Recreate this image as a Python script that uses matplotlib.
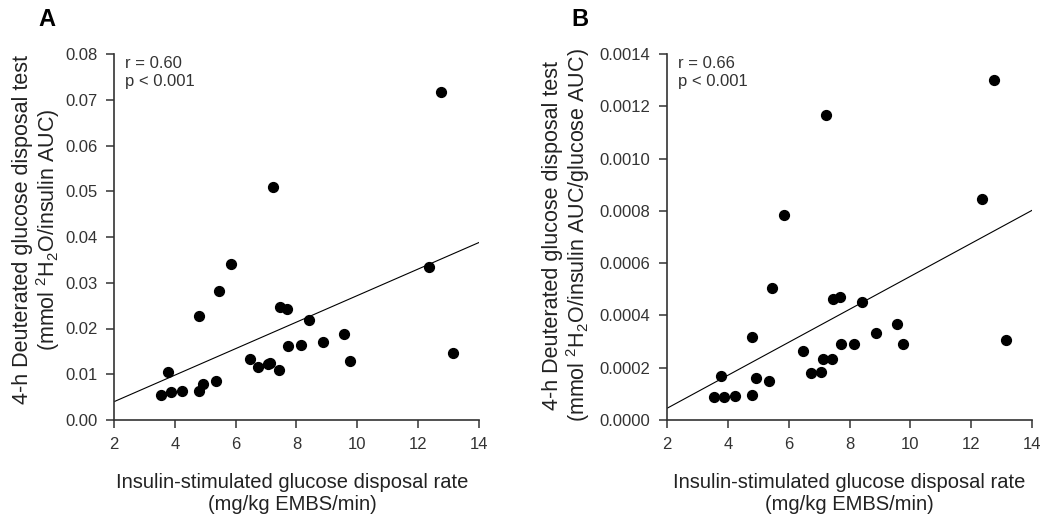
import matplotlib
matplotlib.use("Agg")
import matplotlib.pyplot as plt
import numpy as np

plt.rcParams['font.family'] = ['Liberation Sans', 'DejaVu Sans']
plt.rcParams['mathtext.fontset'] = 'custom'
plt.rcParams['mathtext.rm'] = 'Liberation Sans'

# =========================
# data
# =========================
gdr = [3.53, 3.79, 3.88, 4.25, 4.78, 4.78, 4.91, 5.35, 5.46, 5.84,
       6.48, 6.72, 7.07, 7.12, 7.22, 7.42, 7.45, 7.69, 7.73, 8.16,
       8.40, 8.86, 9.57, 9.75, 12.35, 12.75, 13.16]

ddt_insulin = [0.0054, 0.0106, 0.0061, 0.0063, 0.0227, 0.0064, 0.0078, 0.0085, 0.0281, 0.0341,
               0.0133, 0.0115, 0.0122, 0.0125, 0.0509, 0.0110, 0.0246, 0.0243, 0.0162, 0.0165,
               0.0218, 0.0170, 0.0187, 0.0130, 0.0334, 0.0716, 0.0147]

ddt_ratio = [0.0000894, 0.000167, 0.0000894, 0.000092, 0.000319, 0.0000945, 0.000160, 0.000149, 0.000505, 0.000784,
             0.000263, 0.000178, 0.000184, 0.000235, 0.001168, 0.000235, 0.000462, 0.000469, 0.000291, 0.000291,
             0.000451, 0.000332, 0.000367, 0.000289, 0.000844, 0.001299, 0.000305]

# regression lines (slope, intercept)
fit_a = (0.0029, -0.0018)
fit_b = (0.0000631, -0.0000815)

stats_a = "r = 0.60\np < 0.001"
stats_b = "r = 0.66\np < 0.001"

x_ticks = [2, 4, 6, 8, 10, 12, 14]
y_ticks_a = [0.00, 0.01, 0.02, 0.03, 0.04, 0.05, 0.06, 0.07, 0.08]
y_ticks_b = [0.0000, 0.0002, 0.0004, 0.0006, 0.0008, 0.0010, 0.0012, 0.0014]

xlabel = "Insulin-stimulated glucose disposal rate\n(mg/kg EMBS/min)"
ylabel_a = "4-h Deuterated glucose disposal test\n(mmol $^{2}$H$_{2}$O/insulin AUC)"
ylabel_b = "4-h Deuterated glucose disposal test\n(mmol $^{2}$H$_{2}$O/insulin AUC/glucose AUC)"

txt = '#222222'
W, H = 1050, 516
fig = plt.figure(figsize=(W / 100, H / 100), dpi=100)


def panel(left, y, fit, yticks, yfmt, ylabel, stats, letter, letter_x, ylab_x, ylab_y, xlab_x):
    ax = fig.add_axes([left / W, 1 - 420 / H, 365 / W, 366 / H])
    ax.scatter(gdr, y, s=50, color='black', zorder=3)
    xs = np.array([x_ticks[0], x_ticks[-1]])
    ax.plot(xs, fit[0] * xs + fit[1], color='black', lw=0.8)
    ax.set_xlim(x_ticks[0], x_ticks[-1])
    ax.set_ylim(yticks[0], yticks[-1])
    ax.set_xticks(x_ticks)
    ax.set_yticks(yticks)
    ax.set_yticklabels([yfmt % v for v in yticks])
    for s in ['top', 'right']:
        ax.spines[s].set_visible(False)
    for s in ['left', 'bottom']:
        ax.spines[s].set_color('#333333')
        ax.spines[s].set_linewidth(1.2)
    ax.tick_params(direction='out', length=6, width=1.1, color='#333333',
                   labelsize=12, labelcolor='#333333', pad=6)
    ax.set_xlabel(xlabel, fontsize=14.5, color=txt, linespacing=1.2)
    ax.xaxis.label.set_va('center')
    ax.xaxis.set_label_coords(xlab_x, -0.2)
    ax.set_ylabel(ylabel, fontsize=15.5, color=txt, linespacing=1.05)
    ax.yaxis.label.set_va('center')
    ax.yaxis.set_label_coords(ylab_x, ylab_y)
    ax.text(0.03, 0.995, stats, transform=ax.transAxes, ha='left', va='top',
            fontsize=12, color='#333333', linespacing=1.25)
    fig.text(letter_x / W, 1 - 20 / H, letter, fontsize=17, fontweight='bold',
             ha='center', va='center', color='black')
    return ax


panel(114, ddt_insulin, fit_a, y_ticks_a, '%.2f', ylabel_a, stats_a, 'A', 47, -0.21, 0.52, 0.489)
panel(667, ddt_ratio, fit_b, y_ticks_b, '%.4f', ylabel_b, stats_b, 'B', 580, -0.275, 0.505, 0.50)

fig.savefig("out.png", dpi=100)
